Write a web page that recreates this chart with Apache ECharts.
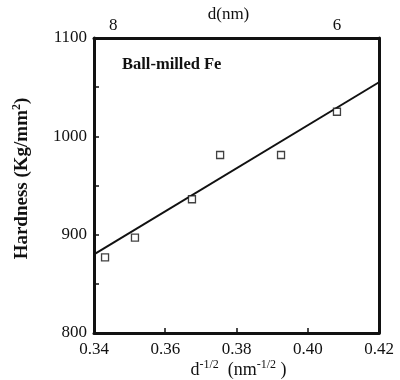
<!DOCTYPE html>
<html><head><meta charset="utf-8">
<script src="https://cdn.jsdelivr.net/npm/echarts@6/dist/echarts.min.js"></script>
<style>html,body{margin:0;padding:0;background:#fff}#c{width:400px;height:380px}</style>
</head><body><div id="c"></div>
<script>
var pointsX = [0.3431, 0.3515, 0.3675, 0.3754, 0.3925, 0.4082];
var pointsY = [877, 897, 936, 981, 981, 1025];
var fitX = [0.34, 0.42];
var fitY = [880, 1055];
var topTickValues = [0.3454, 0.4082];
var topTickLabels = ['8', '6'];
var bottomTickValues = [0.34, 0.36, 0.38, 0.40, 0.42];
var bottomTickLabels = ['0.34', '0.36', '0.38', '0.40', '0.42'];
var leftTickValues = [800, 900, 1000, 1100];
var leftTickLabels = ['800', '900', '1000', '1100'];
var font = '"Liberation Serif", "DejaVu Serif", serif';

var chart = echarts.init(document.getElementById('c'), null, {renderer: 'canvas'});
function zip(a, b) { return a.map(function (v, i) { return [v, b[i]]; }); }
function lookup(vals, labs) {
  return function (v) {
    var i = vals.findIndex(function (t) { return Math.abs(t - v) < 1e-6; });
    return i >= 0 ? labs[i] : '';
  };
}
chart.setOption({
  animation: false,
  backgroundColor: '#fff',
  grid: {left: 94, right: 21, top: 38, bottom: 47, containLabel: false, outerBoundsMode: 'none'},
  title: {
    text: 'Ball-milled Fe', left: 117, top: 51,
    textStyle: {fontFamily: font, fontSize: 16.5, fontWeight: 'bold', color: '#111'}
  },
  xAxis: [{
    type: 'value', position: 'bottom', min: 0.34, max: 0.42, interval: 0.02,
    axisLine: {show: true, lineStyle: {color: '#111', width: 3}},
    axisTick: {show: true, inside: true, length: 5, lineStyle: {color: '#111', width: 1.5}},
    splitLine: {show: false},
    axisLabel: {
      margin: 8, fontFamily: font, fontSize: 17, color: '#111',
      formatter: lookup(bottomTickValues, bottomTickLabels)
    },
    name: '{b|d}{s|-1/2}{b|  (nm}{s|-1/2}{b| )}',
    nameLocation: 'middle', nameGap: 26, nameMoveOverlap: false,
    nameTextStyle: {
      padding: [0, 0, 0, 4],
      rich: {
        b: {fontFamily: font, fontSize: 18, color: '#111', verticalAlign: 'bottom'},
        s: {fontFamily: font, fontSize: 12, color: '#111', verticalAlign: 'top', padding: [0, 0, 8, 0]}
      }
    }
  }, {
    type: 'value', position: 'top', min: 0.34, max: 0.42,
    axisLine: {show: true, onZero: false, lineStyle: {color: '#111', width: 3}},
    axisTick: {show: false},
    splitLine: {show: false},
    axisLabel: {
      show: true, margin: 4, fontFamily: font, fontSize: 17, color: '#111',
      customValues: topTickValues,
      formatter: lookup(topTickValues, topTickLabels)
    },
    name: 'd(nm)', nameLocation: 'middle', nameGap: 15, nameMoveOverlap: false,
    nameTextStyle: {fontFamily: font, fontSize: 17, color: '#111', padding: [0, 16, 0, 0]}
  }],
  yAxis: [{
    type: 'value', position: 'left', min: 800, max: 1100, interval: 100,
    axisLine: {show: true, lineStyle: {color: '#111', width: 3}},
    axisTick: {show: true, inside: true, length: 5, lineStyle: {color: '#111', width: 1.5}},
    minorTick: {show: true, splitNumber: 2, length: 5, lineStyle: {color: '#111', width: 1.5}},
    splitLine: {show: false},
    axisLabel: {margin: 7, fontFamily: font, fontSize: 17, color: '#111',
      formatter: lookup(leftTickValues, leftTickLabels)},
    name: '{b|Hardness (Kg/mm}{s|2}{b|)}',
    nameLocation: 'middle', nameGap: 62, nameMoveOverlap: false,
    nameTextStyle: {
      padding: [0, 0, 0, 14],
      rich: {
        b: {fontFamily: font, fontSize: 19, fontWeight: 'bold', color: '#111', verticalAlign: 'bottom'},
        s: {fontFamily: font, fontSize: 12, fontWeight: 'bold', color: '#111', verticalAlign: 'top', padding: [0, 0, 9, 0]}
      }
    }
  }, {
    type: 'value', position: 'right', min: 800, max: 1100,
    axisLine: {show: true, onZero: false, lineStyle: {color: '#111', width: 3}},
    axisTick: {show: false}, axisLabel: {show: false}, splitLine: {show: false}
  }],
  series: [{
    type: 'line', xAxisIndex: 0, yAxisIndex: 0, data: zip(fitX, fitY),
    showSymbol: false, symbol: 'none', lineStyle: {color: '#111', width: 2}, z: 2
  }, {
    type: 'scatter', xAxisIndex: 0, yAxisIndex: 0, data: zip(pointsX, pointsY),
    symbol: 'rect', symbolSize: 7,
    itemStyle: {color: '#fff', borderColor: '#111', borderWidth: 1.3}, z: 3
  }]
});
</script></body></html>
